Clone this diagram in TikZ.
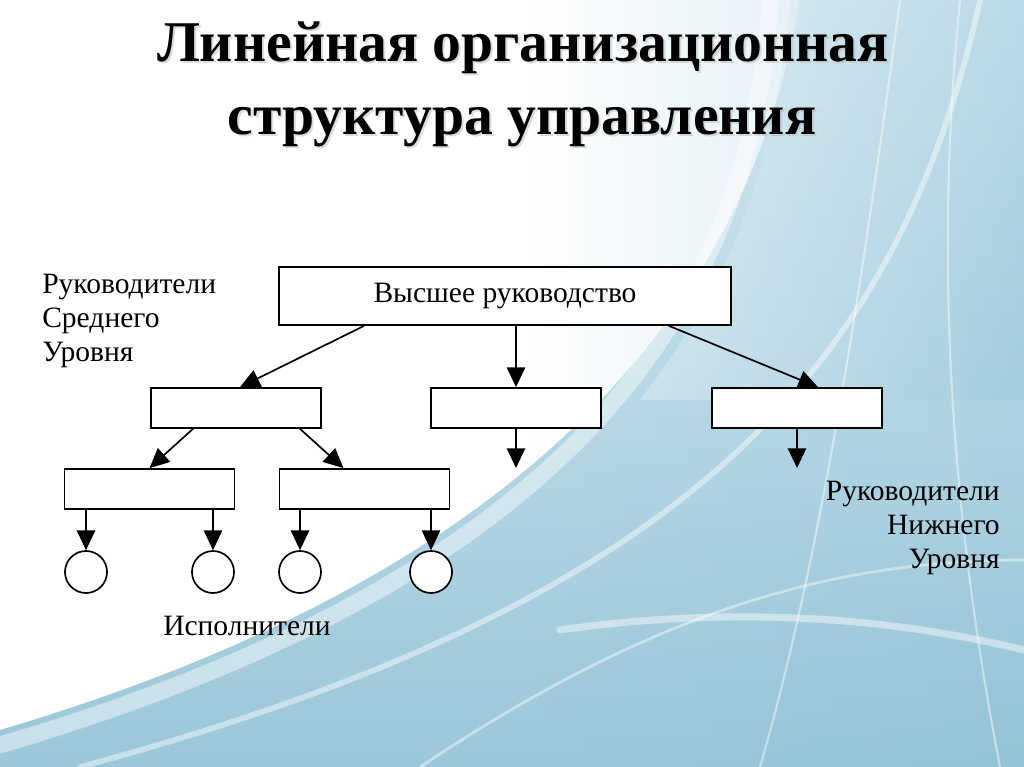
\documentclass[tikz,border=0pt]{standalone}
\usepackage{fontspec}
\setmainfont{Liberation Serif}
\usepackage{tikz}
\usetikzlibrary{arrows.meta,calc,positioning}

\definecolor{bgblue}{RGB}{138,190,212}
\definecolor{bglight}{RGB}{208,230,239}

\begin{document}
\begin{tikzpicture}[
        x=0.025cm, y=-0.025cm,
        box/.style = {draw, fill=white, line width=1.2pt, inner sep=0pt},
        topbox/.style = {box, minimum width=11.3cm, minimum height=1.45cm, font=\fontsize{21}{24}\selectfont},
        unit/.style = {box, minimum width=4.25cm, minimum height=1cm},
        worker/.style = {draw, circle, fill=white, line width=1.2pt, minimum size=1.05cm, inner sep=0pt},
        arrow/.style = {line width=1.2pt, -{Triangle[length=14pt, width=13pt]}},
        label/.style = {inner sep=0pt, font=\fontsize{21}{24}\selectfont},
        title/.style = {inner sep=0pt, anchor=base, font=\fontsize{41}{48}\selectfont\bfseries},
        swoosh/.style = {white, line cap=round, opacity=0.45}
        ]
        % background
        \useasboundingbox (0,0) rectangle (1024,767);
        \fill[white] (0,0) rectangle (1024,767);
        \shade[left color=white, right color=bglight] (520,0) rectangle (1024,767);
        \shade[top color=bglight, bottom color=bgblue, opacity=0.85]
            (1024,0) -- (800,0) .. controls (750,300) and (540,570) .. (0,730)
            -- (0,767) -- (1024,767) -- cycle;
        \shade[left color=white, right color=bgblue, opacity=0.3]
            (1024,0) -- (790,0) .. controls (770,220) and (700,320) .. (640,400)
            -- (1024,400) -- cycle;
        \draw[swoosh, line width=12pt] (770,0) .. controls (750,320) and (560,580) .. (0,745);
        \draw[swoosh, line width=4pt] (980,0) .. controls (900,360) and (700,600) .. (80,767);
        \draw[swoosh, line width=1.5pt] (900,0) .. controls (860,300) and (820,560) .. (760,767);
        \draw[swoosh, line width=2pt] (1024,560) .. controls (820,560) and (640,620) .. (420,767);
        \draw[swoosh, line width=5pt] (1024,650) .. controls (860,610) and (700,610) .. (560,630);
        \draw[swoosh, line width=1.5pt] (960,0) .. controls (930,300) and (960,560) .. (1000,767);

        % title
        \node[title, gray!60, opacity=0.45] at (525,64) {Линейная организационная};
        \node[title] (title1) at (523,62) {Линейная организационная};
        \node[title, gray!60, opacity=0.45] at (524,137) {структура управления};
        \node[title] (title2) at (522,135) {структура управления};

        % boxes
        \node[topbox] (top) at (505,296) {Высшее руководство};
        \node[unit] (mA) at (236,408) {};
        \node[unit] (mB) at (516,408) {};
        \node[unit] (mC) at (797,408) {};
        \node[unit] (lD) at (149.5,489) {};
        \node[unit] (lE) at (364.5,489) {};

        \node[worker] (e1) at (86,572) {};
        \node[worker] (e2) at (213,572) {};
        \node[worker] (e3) at (300,572) {};
        \node[worker] (e4) at (431,572) {};

        \coordinate (bEnd) at (516,468);
        \coordinate (cEnd) at (797,468);

        % labels
        \node[label, align=left, anchor=north west] (midlabel) at (42,274) {Руководители\\Среднего\\Уровня};
        \node[label, align=right, anchor=north east] (lowlabel) at (1000,481) {Руководители\\Нижнего\\Уровня};
        \node[label] (workers) at (247,626) {Исполнители};

        % arrows
        \draw[arrow] ($(top.south west)+(86,0)$) -- ($(mA.north)+(4,0)$);
        \draw[arrow] (top.south -| mB.north) -- (mB.north);
        \draw[arrow] ($(top.south east)+(-63,0)$) -- ($(mC.north)+(21,0)$);
        \draw[arrow] ($(mA.south)+(-43,0)$) -- (lD.north);
        \draw[arrow] ($(mA.south)+(64,0)$) -- ($(lE.north)+(-21,0)$);
        \draw[arrow] (mB.south) -- (bEnd);
        \draw[arrow] (mC.south) -- (cEnd);
        \draw[arrow] (e1 |- lD.south) -- (e1.north);
        \draw[arrow] (e2 |- lD.south) -- (e2.north);
        \draw[arrow] (e3 |- lE.south) -- (e3.north);
        \draw[arrow] (e4 |- lE.south) -- (e4.north);
    \end{tikzpicture}
\end{document}
